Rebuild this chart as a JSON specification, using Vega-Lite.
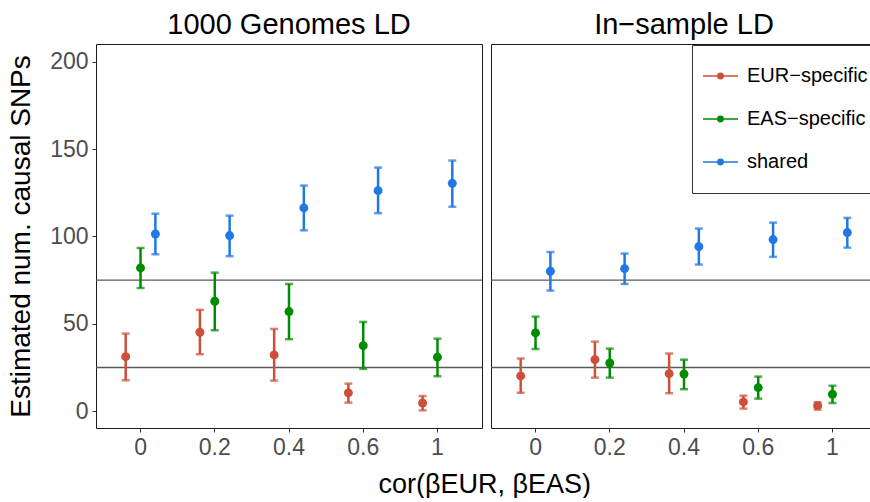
{
  "$schema": "https://vega.github.io/schema/vega-lite/v6.json",
  "padding": {"left": 7, "top": 10, "right": 0, "bottom": 0},
  "background": "white",
  "datasets": {
    "pts": [
      {"panel": "1000 Genomes LD", "cor": "0", "group": "EUR−specific", "est": 31.2, "lo": 17.7, "hi": 44.4},
      {"panel": "1000 Genomes LD", "cor": "0.2", "group": "EUR−specific", "est": 45.2, "lo": 32.6, "hi": 58.0},
      {"panel": "1000 Genomes LD", "cor": "0.4", "group": "EUR−specific", "est": 32.2, "lo": 17.5, "hi": 47.1},
      {"panel": "1000 Genomes LD", "cor": "0.6", "group": "EUR−specific", "est": 10.5, "lo": 4.9, "hi": 15.8},
      {"panel": "1000 Genomes LD", "cor": "1", "group": "EUR−specific", "est": 4.7, "lo": 0.5, "hi": 8.7},
      {"panel": "1000 Genomes LD", "cor": "0", "group": "EAS−specific", "est": 82.0, "lo": 70.5, "hi": 93.4},
      {"panel": "1000 Genomes LD", "cor": "0.2", "group": "EAS−specific", "est": 62.9, "lo": 46.3, "hi": 79.3},
      {"panel": "1000 Genomes LD", "cor": "0.4", "group": "EAS−specific", "est": 57.0, "lo": 41.2, "hi": 72.8},
      {"panel": "1000 Genomes LD", "cor": "0.6", "group": "EAS−specific", "est": 37.5, "lo": 24.2, "hi": 51.1},
      {"panel": "1000 Genomes LD", "cor": "1", "group": "EAS−specific", "est": 30.9, "lo": 20.0, "hi": 41.5},
      {"panel": "1000 Genomes LD", "cor": "0", "group": "shared", "est": 101.4, "lo": 89.8, "hi": 113.0},
      {"panel": "1000 Genomes LD", "cor": "0.2", "group": "shared", "est": 100.5, "lo": 88.7, "hi": 111.9},
      {"panel": "1000 Genomes LD", "cor": "0.4", "group": "shared", "est": 116.3, "lo": 103.5, "hi": 129.1},
      {"panel": "1000 Genomes LD", "cor": "0.6", "group": "shared", "est": 126.2, "lo": 113.3, "hi": 139.4},
      {"panel": "1000 Genomes LD", "cor": "1", "group": "shared", "est": 130.4, "lo": 117.0, "hi": 143.4},
      {"panel": "In−sample LD", "cor": "0", "group": "EUR−specific", "est": 20.2, "lo": 10.5, "hi": 30.1},
      {"panel": "In−sample LD", "cor": "0.2", "group": "EUR−specific", "est": 29.5, "lo": 19.2, "hi": 39.8},
      {"panel": "In−sample LD", "cor": "0.4", "group": "EUR−specific", "est": 21.5, "lo": 10.3, "hi": 33.0},
      {"panel": "In−sample LD", "cor": "0.6", "group": "EUR−specific", "est": 5.3, "lo": 1.5, "hi": 8.9},
      {"panel": "In−sample LD", "cor": "1", "group": "EUR−specific", "est": 3.2, "lo": 0.9, "hi": 5.1},
      {"panel": "In−sample LD", "cor": "0", "group": "EAS−specific", "est": 44.8, "lo": 35.6, "hi": 54.1},
      {"panel": "In−sample LD", "cor": "0.2", "group": "EAS−specific", "est": 27.6, "lo": 19.2, "hi": 35.8},
      {"panel": "In−sample LD", "cor": "0.4", "group": "EAS−specific", "est": 21.3, "lo": 12.6, "hi": 29.5},
      {"panel": "In−sample LD", "cor": "0.6", "group": "EAS−specific", "est": 13.5, "lo": 7.2, "hi": 19.8},
      {"panel": "In−sample LD", "cor": "1", "group": "EAS−specific", "est": 9.7, "lo": 4.7, "hi": 14.6},
      {"panel": "In−sample LD", "cor": "0", "group": "shared", "est": 80.1, "lo": 69.0, "hi": 91.1},
      {"panel": "In−sample LD", "cor": "0.2", "group": "shared", "est": 81.6, "lo": 72.8, "hi": 90.2},
      {"panel": "In−sample LD", "cor": "0.4", "group": "shared", "est": 94.2, "lo": 83.9, "hi": 104.5},
      {"panel": "In−sample LD", "cor": "0.6", "group": "shared", "est": 98.2, "lo": 88.3, "hi": 107.9},
      {"panel": "In−sample LD", "cor": "1", "group": "shared", "est": 102.2, "lo": 93.6, "hi": 110.6}
    ],
    "refs": [{"ref": 25}, {"ref": 75}]
  },
  "title": {"text": "cor(βEUR, βEAS)", "orient": "bottom", "anchor": "middle", "fontSize": 27, "fontWeight": "normal", "color": "black", "offset": 12, "dx": 42},
  "spacing": 5,
  "resolve": {"scale": {"y": "shared", "color": "shared", "x": "independent", "xOffset": "independent"}},
  "hconcat": [
    {
      "width": 386,
      "height": 384,
      "title": {"text": "1000 Genomes LD", "fontSize": 29, "fontWeight": "normal", "color": "black", "offset": 4, "anchor": "middle"},
      "layer": [
        {
          "data": {"name": "refs"},
          "mark": {"type": "rule", "color": "#595959", "strokeWidth": 1.4},
          "encoding": {"y": {"field": "ref", "type": "quantitative", "scale": {"domain": [-9.6, 210.1], "nice": false, "zero": false}, "axis": {"values": [0, 50, 100, 150, 200], "title": "Estimated num. causal SNPs", "titlePadding": 14}}}
        },
        {
          "data": {"name": "pts"},
          "transform": [{"filter": "datum.panel === '1000 Genomes LD'"}],
          "layer": [
            {"mark": {"type": "rule", "strokeWidth": 2.5}, "encoding": {"y": {"field": "lo", "type": "quantitative", "axis": {"values": [0, 50, 100, 150, 200], "title": "Estimated num. causal SNPs", "titlePadding": 14}}, "y2": {"field": "hi"}}},
            {"mark": {"type": "tick", "size": 8, "thickness": 2.5}, "encoding": {"y": {"field": "lo", "type": "quantitative", "axis": {"values": [0, 50, 100, 150, 200], "title": "Estimated num. causal SNPs", "titlePadding": 14}}}},
            {"mark": {"type": "tick", "size": 8, "thickness": 2.5}, "encoding": {"y": {"field": "hi", "type": "quantitative", "axis": {"values": [0, 50, 100, 150, 200], "title": "Estimated num. causal SNPs", "titlePadding": 14}}}},
            {"mark": {"type": "point", "filled": true, "opacity": 1, "size": 80}, "encoding": {"y": {"field": "est", "type": "quantitative", "axis": {"values": [0, 50, 100, 150, 200], "title": "Estimated num. causal SNPs", "titlePadding": 14}}}}
          ],
          "encoding": {
            "x": {"field": "cor", "type": "nominal", "sort": ["0", "0.2", "0.4", "0.6", "1"], "scale": {"type": "band", "paddingInner": 0, "paddingOuter": 0.1}, "axis": {"title": null, "labelAngle": 0}},
            "xOffset": {"field": "group", "type": "nominal", "sort": ["EUR−specific", "EAS−specific", "shared"], "scale": {"paddingInner": 0, "paddingOuter": 1.52}},
            "color": {"field": "group", "type": "nominal", "scale": {"domain": ["EUR−specific", "EAS−specific", "shared"], "range": ["#CD4F39", "#008B00", "#1F78E5"]}}
          }
        }
      ]
    },
    {
      "width": 382,
      "height": 384,
      "title": {"text": "In−sample LD", "fontSize": 29, "fontWeight": "normal", "color": "black", "offset": 4, "anchor": "middle", "dx": 2},
      "layer": [
        {
          "data": {"name": "refs"},
          "mark": {"type": "rule", "color": "#595959", "strokeWidth": 1.4},
          "encoding": {"y": {"field": "ref", "type": "quantitative", "axis": null}}
        },
        {
          "data": {"name": "pts"},
          "transform": [{"filter": "datum.panel === 'In−sample LD'"}],
          "layer": [
            {"mark": {"type": "rule", "strokeWidth": 2.5}, "encoding": {"y": {"field": "lo", "type": "quantitative", "axis": null}, "y2": {"field": "hi"}}},
            {"mark": {"type": "tick", "size": 8, "thickness": 2.5}, "encoding": {"y": {"field": "lo", "type": "quantitative", "axis": null}}},
            {"mark": {"type": "tick", "size": 8, "thickness": 2.5}, "encoding": {"y": {"field": "hi", "type": "quantitative", "axis": null}}},
            {"mark": {"type": "point", "filled": true, "opacity": 1, "size": 80}, "encoding": {"y": {"field": "est", "type": "quantitative", "axis": null}}}
          ],
          "encoding": {
            "x": {"field": "cor", "type": "nominal", "sort": ["0", "0.2", "0.4", "0.6", "1"], "scale": {"type": "band", "paddingInner": 0, "paddingOuter": 0.1, "range": [0, 386]}, "axis": {"title": null, "labelAngle": 0}},
            "xOffset": {"field": "group", "type": "nominal", "sort": ["EUR−specific", "EAS−specific", "shared"], "scale": {"paddingInner": 0, "paddingOuter": 1.52}},
            "color": {"field": "group", "type": "nominal"}
          }
        }
      ]
    }
  ],
  "config": {
    "font": "Liberation Sans",
    "view": {"stroke": "#1a1a1a", "strokeWidth": 1},
    "axis": {"grid": false, "domain": false, "tickColor": "#333333", "tickSize": 4, "labelColor": "#4D4D4D", "labelFontSize": 23, "labelPadding": 4, "titleFontSize": 28, "titleFontWeight": "normal", "titleColor": "black"},
    "axisX": {"labelPadding": 4},
    "legend": {
      "title": null,
      "orient": "none",
      "legendX": 596,
      "legendY": 1,
      "symbolType": "M-1,0L1,0M-0.15,0A0.15,0.15,0,1,1,0.15,0A0.15,0.15,0,1,1,-0.15,0Z",
      "symbolSize": 1225,
      "symbolStrokeWidth": 1.6,
      "symbolOpacity": 1,
      "labelFontSize": 20,
      "labelColor": "black",
      "labelOffset": 8,
      "fillColor": "white",
      "strokeColor": "#333333",
      "padding": 10,
      "rowPadding": 1,
      "clipHeight": 42,
      "offset": 0
    }
  }
}
